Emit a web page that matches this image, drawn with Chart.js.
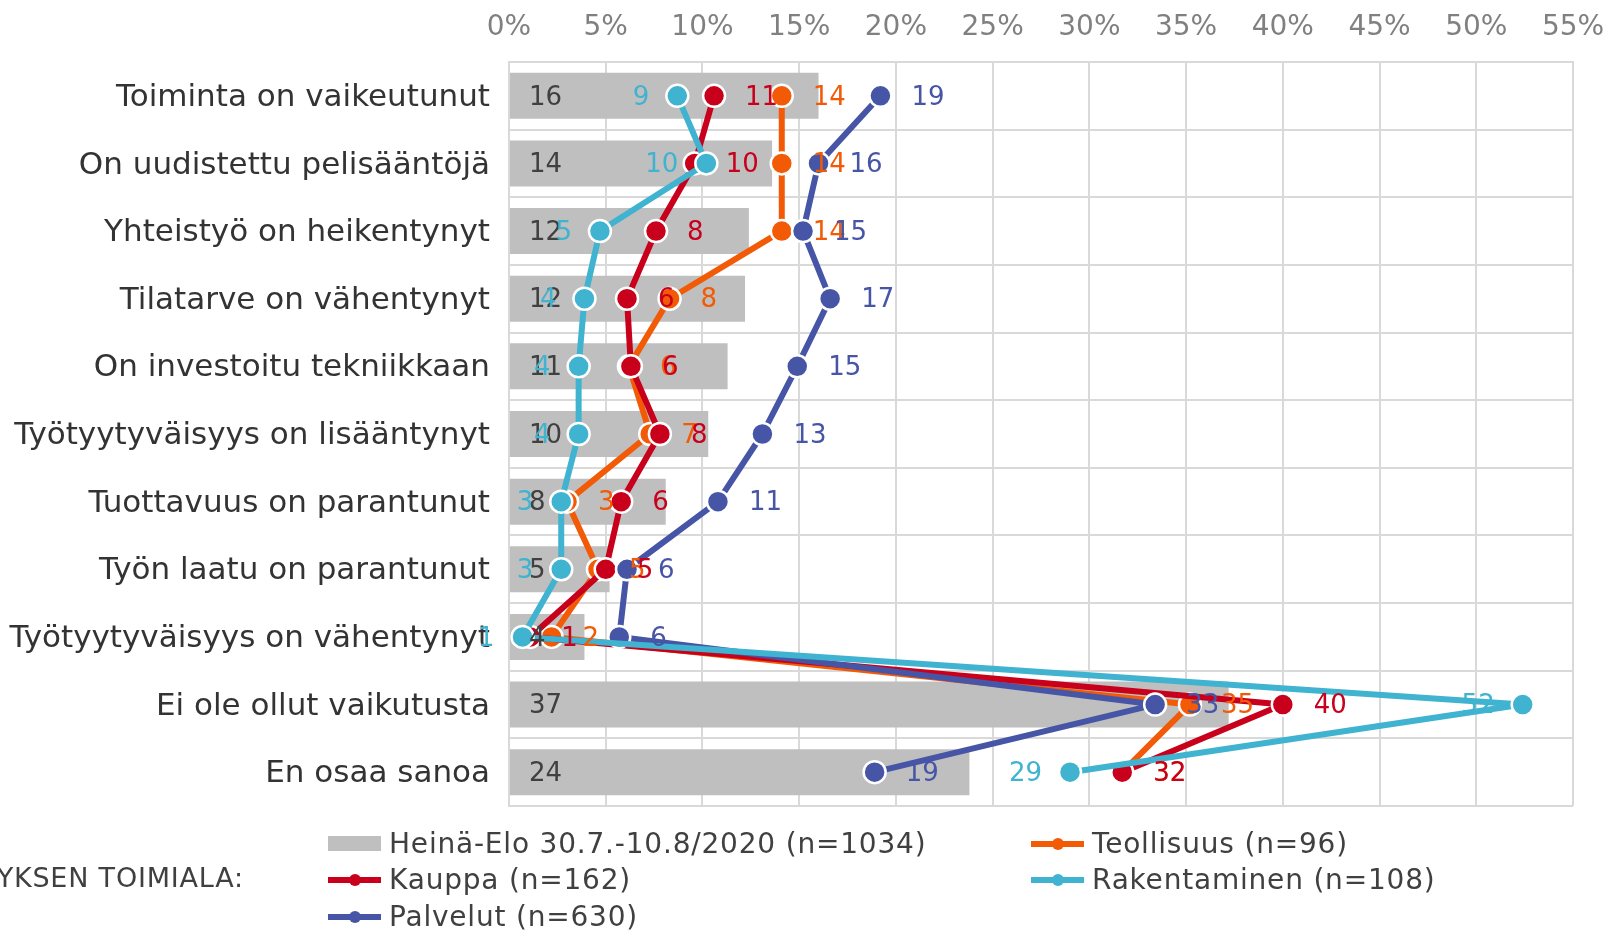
<!DOCTYPE html>
<html>
<head>
<meta charset="utf-8">
<script src="https://cdn.jsdelivr.net/npm/chart.js@4/dist/chart.umd.min.js"></script>
<style>
  body { margin: 0; background: #fff; font-family: "DejaVu Sans", Verdana, sans-serif; }
  #wrap { position: relative; width: 1609px; height: 934px; overflow: hidden; }
  #legend { position: absolute; left: 0; top: 0; width: 1609px; height: 934px; pointer-events: none; }
  .item { position: absolute; display: flex; align-items: center; font-size: 28px; letter-spacing: 0.8px; color: #404040; white-space: nowrap; }
  .sym { position: relative; width: 53px; height: 16px; margin-right: 8px; }
  .box { position: absolute; left: 0; top: 0; width: 53px; height: 15px; background: #BFBFBF; }
  .ln { position: absolute; left: 0; top: 5px; width: 53px; height: 6px; }
  .dot { position: absolute; left: 21px; top: 2px; width: 12px; height: 12px; border-radius: 50%; }
  #group { position: absolute; right: 1365px; top: 862px; font-size: 27px; letter-spacing: 0.8px; color: #404040; white-space: nowrap; }
</style>
</head>
<body>
<div id="wrap">
  <canvas id="chart" width="1609" height="934"></canvas>
  <div id="legend"></div>
  <div id="group">YRITYKSEN TOIMIALA:</div>
</div>
<script>
const categories = [
  "Toiminta on vaikeutunut",
  "On uudistettu pelisääntöjä",
  "Yhteistyö on heikentynyt",
  "Tilatarve on vähentynyt",
  "On investoitu tekniikkaan",
  "Työtyytyväisyys on lisääntynyt",
  "Tuottavuus on parantunut",
  "Työn laatu on parantunut",
  "Työtyytyväisyys on vähentynyt",
  "Ei ole ollut vaikutusta",
  "En osaa sanoa"
];

// prosentteja
const kaikki       = [16.0, 13.6, 12.4, 12.2, 11.3, 10.3, 8.1, 5.2, 3.9, 37.2, 23.8];
const teollisuus   = [14.1, 14.1, 14.1, 8.3, 6.2, 7.3, 3.0, 4.6, 2.2, 35.2, 31.7];
const kauppa       = [10.6, 9.6, 7.6, 6.1, 6.3, 7.8, 5.8, 5.0, 1.1, 40.0, 31.7];
const rakentaminen = [8.7, 10.2, 4.7, 3.9, 3.6, 3.6, 2.7, 2.7, 0.7, 52.4, 29.0];
const palvelut     = [19.2, 16.0, 15.2, 16.6, 14.9, 13.1, 10.8, 6.1, 5.7, 33.4, 18.9];

const xTicks = [0, 5, 10, 15, 20, 25, 30, 35, 40, 45, 50, 55];

const FONT = "DejaVu Sans";

function lineSet(label, data, color, order, side) {
  return {
    type: "line",
    label: label,
    data: data,
    indexAxis: "y",
    borderColor: color,
    backgroundColor: color,
    borderWidth: 6,
    borderJoinStyle: "round",
    pointRadius: 11,
    pointBorderWidth: 2.5,
    pointBorderColor: "#fff",
    pointBackgroundColor: color,
    tension: 0,
    fill: false,
    order: order,
    labelSide: side
  };
}

const valueLabels = {
  id: "valueLabels",
  afterDatasetsDraw(chart) {
    const ctx = chart.ctx;
    ctx.save();
    ctx.font = "26px " + FONT;
    ctx.textBaseline = "middle";
    chart.data.datasets.forEach((ds, i) => {
      const meta = chart.getDatasetMeta(i);
      meta.data.forEach((el, j) => {
        const txt = String(Math.round(ds.data[j]));
        if (ds.type === "bar") {
          ctx.fillStyle = "#404040";
          ctx.textAlign = "left";
          ctx.fillText(txt, chart.chartArea.left + 20, el.y + 2);
        } else if (ds.labelSide === "left") {
          ctx.fillStyle = ds.borderColor;
          ctx.textAlign = "right";
          ctx.fillText(txt, el.x - 28, el.y + 2);
        } else {
          ctx.fillStyle = ds.borderColor;
          ctx.textAlign = "left";
          ctx.fillText(txt, el.x + 31, el.y + 2);
        }
      });
    });
    ctx.restore();
  }
};

const datasets = [
  {
    type: "bar",
    label: "Heinä-Elo 30.7.-10.8/2020 (n=1034)",
    data: kaikki,
    backgroundColor: "#BFBFBF",
    borderWidth: 0,
    barPercentage: 0.68,
    categoryPercentage: 1,
    order: 9
  },
  lineSet("Teollisuus (n=96)", teollisuus, "#F25A06", 4, "right"),
  lineSet("Kauppa (n=162)", kauppa, "#C8001C", 3, "right"),
  lineSet("Rakentaminen (n=108)", rakentaminen, "#3FB3CF", 1, "left"),
  lineSet("Palvelut (n=630)", palvelut, "#4755A7", 2, "right")
];

new Chart(document.getElementById("chart"), {
  data: { labels: categories, datasets: datasets },
  options: {
    indexAxis: "y",
    responsive: false,
    animation: false,
    layout: { padding: { left: 0, right: 36, top: 0, bottom: 128 } },
    plugins: {
      legend: { display: false },
      tooltip: { enabled: false }
    },
    scales: {
      x: {
        type: "linear",
        position: "top",
        min: 0,
        max: 55,
        afterBuildTicks: (s) => { s.ticks = xTicks.map(v => ({ value: v })); },
        afterFit: (s) => { s.height = 62; s.paddingLeft = 0; s.paddingRight = 0; },
        grid: { color: "#D9D9D9", lineWidth: 2, drawTicks: false },
        border: { color: "#D9D9D9", width: 2 },
        ticks: {
          color: "#808080",
          font: { family: FONT, size: 28 },
          padding: 17,
          maxRotation: 0,
          callback: (v) => v + "%"
        }
      },
      y: {
        type: "category",
        offset: true,
        afterFit: (s) => { s.width = 509; },
        grid: { color: "#D9D9D9", lineWidth: 2, offset: true, drawTicks: false },
        border: { color: "#D9D9D9", width: 2 },
        ticks: {
          color: "#333333",
          font: { family: FONT, size: 31 },
          padding: 19,
          labelOffset: 2
        }
      }
    }
  },
  plugins: [valueLabels]
});

// oma selite kahteen sarakkeeseen
const legendPos = [
  [328, 845], [1031, 845],
  [328, 881], [1031, 881],
  [328, 918]
];
const legend = document.getElementById("legend");
datasets.forEach((ds, i) => {
  const item = document.createElement("div");
  item.className = "item";
  item.style.left = legendPos[i][0] + "px";
  item.style.top = (legendPos[i][1] - 18) + "px";
  let sym = '<span class="sym">';
  if (ds.type === "bar") {
    sym += '<span class="box"></span>';
  } else {
    sym += '<span class="ln" style="background:' + ds.borderColor + '"></span>' +
           '<span class="dot" style="background:' + ds.borderColor + '"></span>';
  }
  sym += "</span>";
  item.innerHTML = sym + "<span>" + ds.label + "</span>";
  legend.appendChild(item);
});
</script>
</body>
</html>
